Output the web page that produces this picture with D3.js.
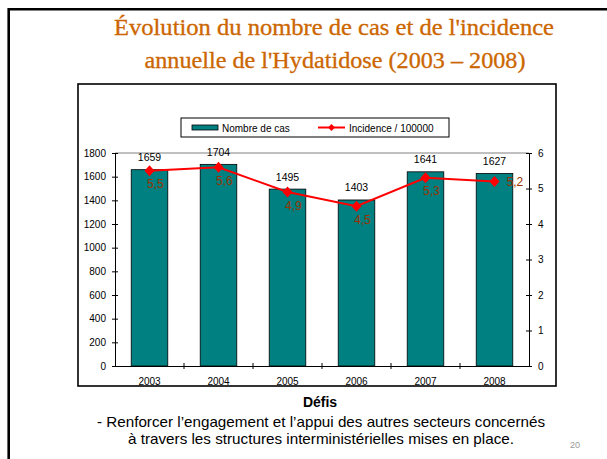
<!DOCTYPE html>
<html><head><meta charset="utf-8">
<script src="https://cdn.jsdelivr.net/npm/d3@7"></script>
<style>body{margin:0;background:#fff}svg{display:block}</style>
</head><body>
<script>
const years = ["2003","2004","2005","2006","2007","2008"];
const cases = [1659,1704,1495,1403,1641,1627];
const incidence = [5.5,5.6,4.9,4.5,5.3,5.2];
const leftTicks = [0,200,400,600,800,1000,1200,1400,1600,1800];
const rightTicks = [0,1,2,3,4,5,6];
const titleLines = ["Évolution du nombre de cas et de l'incidence","annuelle de l'Hydatidose (2003 – 2008)"];
const legendLabels = ["Nombre de cas","Incidence / 100000"];
const footerTitle = "Défis";
const footerLines = ["- Renforcer l’engagement et l’appui des autres secteurs concernés","à travers les structures interministérielles mises en place."];
const pageNum = "20";

const W=607,H=459;
const svg=d3.select("body").append("svg").attr("width",W).attr("height",H);
// slide frame
svg.append("path").attr("d","M8.7,470V9.2H620").attr("fill","none").attr("stroke","#000").attr("stroke-width",2.6);
// title
const tl=[{t:titleLines[0],x:334,y:35,w:440},{t:titleLines[1],x:335,y:68,w:381}];
tl.forEach(d=>svg.append("text").attr("x",d.x).attr("y",d.y).attr("text-anchor","middle")
  .attr("font-family","Liberation Serif, serif").attr("font-size",23).attr("fill","#CC6600")
  .attr("stroke","#CC6600").attr("stroke-width",0.3)
  .attr("textLength",d.w).attr("lengthAdjust","spacingAndGlyphs").text(d.t));
// chart frame
svg.append("rect").attr("x",78).attr("y",84).attr("width",478).attr("height",302).attr("fill","#fff")
  .attr("stroke","#000").attr("stroke-width",1.6);

const x0=115,x1=529,yB=366,yT=153;
const x=d3.scaleBand().domain(years).range([x0,x1]).paddingInner(0.47).paddingOuter(0.235);
const xb=d3.scaleBand().domain(years).range([x0,x1]);
const yL=d3.scaleLinear().domain([0,1800]).range([yB,yT]);
const yR=d3.scaleLinear().domain([0,6]).range([yB,yT]);
const font="Liberation Sans, Arial, sans-serif";

// plot top border
svg.append("line").attr("x1",x0).attr("x2",x1).attr("y1",yT).attr("y2",yT).attr("stroke","#808080").attr("stroke-width",1);

// bars
svg.selectAll("rect.bar").data(years).enter().append("rect").attr("class","bar")
  .attr("x",d=>x(d)).attr("width",x.bandwidth())
  .attr("y",(d,i)=>yL(cases[i])).attr("height",(d,i)=>yB-yL(cases[i]))
  .attr("fill","#008080").attr("stroke","#000").attr("stroke-width",0.8);
svg.selectAll("text.bv").data(years).enter().append("text")
  .attr("x",d=>x(d)+x.bandwidth()/2).attr("y",(d,i)=>yL(cases[i])-8.5)
  .attr("text-anchor","middle").attr("font-family",font).attr("font-size",10.5).attr("fill","#000")
  .text((d,i)=>cases[i]);

// axes
const axL=svg.append("g").attr("transform",`translate(${x0},0)`)
  .call(d3.axisLeft(yL).tickValues(leftTicks).tickFormat(d3.format("d")).tickSize(0).tickPadding(9));
axL.select(".domain").attr("stroke","#000");
axL.selectAll(".tick").append("line").attr("x1",-3).attr("x2",3).attr("stroke","#000");
axL.selectAll("text").attr("font-family",font).attr("font-size",10).attr("fill","#000");

const axR=svg.append("g").attr("transform",`translate(${x1},0)`)
  .call(d3.axisRight(yR).tickValues(rightTicks).tickFormat(d3.format("d")).tickSize(0).tickPadding(9));
axR.select(".domain").attr("stroke","#000");
axR.selectAll(".tick").append("line").attr("x1",-3).attr("x2",3).attr("stroke","#000");
axR.selectAll("text").attr("font-family",font).attr("font-size",10).attr("fill","#000");

const axB=svg.append("g").attr("transform",`translate(0,${yB})`)
  .call(d3.axisBottom(xb).tickSize(0).tickPadding(12));
axB.select(".domain").attr("stroke","#000");
axB.selectAll("text").attr("font-family",font).attr("font-size",10).attr("fill","#000");
svg.selectAll("line.xt").data(years.slice(1)).enter().append("line")
  .attr("x1",d=>xb(d)).attr("x2",d=>xb(d)).attr("y1",yB-3).attr("y2",yB+3).attr("stroke","#000");

// line
const cx=d=>x(d)+x.bandwidth()/2;
const line=d3.line().x(d=>cx(d)).y((d,i)=>yR(incidence[i]));
svg.append("path").datum(years).attr("d",line).attr("fill","none").attr("stroke","#FF0000").attr("stroke-width",2);
const diamond="M0,-5.5L5,0L0,5.5L-5,0Z";
svg.selectAll("path.mk").data(years).enter().append("path")
  .attr("transform",(d,i)=>`translate(${cx(d)},${yR(incidence[i])})`).attr("d",diamond).attr("fill","#FF0000");
svg.selectAll("text.iv").data(years).enter().append("text")
  .attr("x",(d,i)=>i===5?cx(d)+12:cx(d)-2.5)
  .attr("y",(d,i)=>i===5?yR(incidence[i])+5:yR(incidence[i])+17.5)
  .attr("font-family",font).attr("font-size",12).attr("fill","#993300")
  .text((d,i)=>String(incidence[i]).replace(".",","));

// legend
svg.append("rect").attr("x",181).attr("y",118).attr("width",268).attr("height",19).attr("fill","#fff")
  .attr("stroke","#000").attr("stroke-width",1);
svg.append("rect").attr("x",192).attr("y",125).attr("width",26).attr("height",5).attr("fill","#008080").attr("stroke","#000").attr("stroke-width",0.8);
svg.append("text").attr("x",222).attr("y",131.5).attr("font-family",font).attr("font-size",10).text(legendLabels[0]);
svg.append("line").attr("x1",318).attr("x2",345).attr("y1",127.5).attr("y2",127.5).attr("stroke","#FF0000").attr("stroke-width",2);
svg.append("path").attr("transform","translate(331.5,127.5)").attr("d","M0,-3.5L3.5,0L0,3.5L-3.5,0Z").attr("fill","#FF0000");
svg.append("text").attr("x",349).attr("y",131.5).attr("font-family",font).attr("font-size",10).text(legendLabels[1]);

// footer
svg.append("text").attr("x",320).attr("y",407).attr("text-anchor","middle").attr("font-family",font)
  .attr("font-size",14).attr("font-weight","bold").text(footerTitle);
const fl=[{y:426.5,w:448},{y:444,w:386}];
footerLines.forEach((t,i)=>svg.append("text").attr("x",321).attr("y",fl[i].y).attr("text-anchor","middle")
  .attr("font-family",font).attr("font-size",14.5).attr("textLength",fl[i].w).attr("lengthAdjust","spacingAndGlyphs").text(t));
svg.append("text").attr("x",575).attr("y",448).attr("text-anchor","middle").attr("font-family",font)
  .attr("font-size",9).attr("fill","#999").text(pageNum);
</script>
</body></html>
